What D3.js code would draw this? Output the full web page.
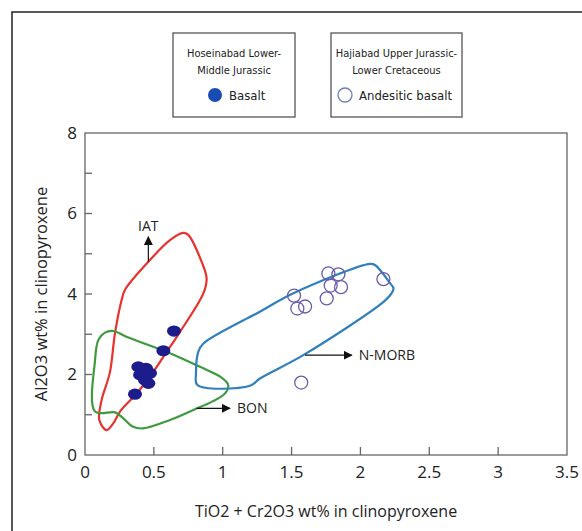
<!DOCTYPE html>
<html>
<head>
<meta charset="utf-8">
<script src="https://cdn.jsdelivr.net/npm/d3@7"></script>
<style>
    html, body { margin: 0; padding: 0; background: #fff; }
    svg { display: block; }
    .tick-label, .axis-title, .field-label { font-family: "Open Sans", sans-serif; fill: #222; }
    .legend-text { font-family: "DejaVu Sans Condensed", "Liberation Sans Narrow", sans-serif; font-stretch: condensed; fill: #222; }
</style>
</head>
<body>
<div id="chart"></div>
<script>
// Hoseinabad basalt (filled) and Hajiabad andesitic basalt (open)
const basaltX = [0.646, 0.569, 0.387, 0.443, 0.472, 0.400, 0.436, 0.460, 0.363];
const basaltY = [3.08, 2.59, 2.19, 2.15, 2.03, 1.99, 1.86, 1.78, 1.51];
const andesiticX = [1.767, 1.840, 1.784, 1.859, 1.755, 1.518, 1.542, 1.598, 2.167, 1.570];
const andesiticY = [4.51, 4.49, 4.21, 4.17, 3.89, 3.96, 3.64, 3.69, 4.37, 1.80];

// discrimination fields, outline vertices as [x, y]
const iatField = [[0.157, 0.62], [0.104, 0.87], [0.121, 1.37], [0.18, 2.04], [0.218, 3.03], [0.266, 3.85],
    [0.29, 4.1], [0.46, 4.8], [0.617, 5.34], [0.714, 5.52], [0.75, 5.47], [0.847, 4.80], [0.883, 4.39],
    [0.86, 4.02], [0.69, 3.06], [0.569, 2.44], [0.472, 1.95], [0.375, 1.53], [0.254, 1.08], [0.206, 0.79]];
const bonField = [[0.073, 1.08], [0.073, 2.36], [0.097, 2.86], [0.145, 3.04], [0.206, 3.08], [0.30, 2.94],
    [0.617, 2.53], [0.835, 2.19], [0.98, 1.95], [1.04, 1.74], [1.017, 1.53], [0.92, 1.32], [0.787, 1.12],
    [0.617, 0.87], [0.42, 0.66], [0.35, 0.70], [0.266, 0.95], [0.218, 1.06]];
const morbField = [[0.86, 2.77], [0.823, 2.57], [0.806, 2.03], [0.816, 1.74], [1.198, 1.72], [1.27, 1.90],
    [1.585, 2.48], [2.17, 3.81], [2.227, 4.02], [2.24, 4.14], [2.215, 4.27], [2.106, 4.72], [2.07, 4.75],
    [1.513, 4.02], [1.27, 3.56]];

const fieldNames = ['IAT', 'BON', 'N-MORB'];
// arrow from -> to, label placed past the arrow head
const arrowFrom = [[0.46, 4.80], [0.811, 1.16], [1.598, 2.48]];
const arrowTo = [[0.46, 5.42], [1.053, 1.16], [1.937, 2.48]];

const xTicks = [0, 0.5, 1, 1.5, 2, 2.5, 3, 3.5];
const yTicks = [0, 1, 2, 3, 4, 5, 6, 7, 8];
const yTickLabels = [0, 2, 4, 6, 8];

const legendTitles = [['Hoseinabad Lower-', 'Middle Jurassic'], ['Hajiabad Upper Jurassic-', 'Lower Cretaceous']];
const legendNames = ['Basalt', 'Andesitic basalt'];

const COLORS = { iat: '#e8322e', bon: '#3d9a3e', morb: '#2f80bd', basalt: '#1c1c8c', andesitic: '#6a5cab' };

const width = 582, height = 531;
const margin = { top: 133, right: 15, bottom: 76, left: 85 };

const svg = d3.select('#chart').append('svg')
    .attr('width', width)
    .attr('height', height);

const defs = svg.append('defs');
defs.append('marker')
    .attr('id', 'arrow-head')
    .attr('viewBox', '0 0 10 10')
    .attr('refX', 9).attr('refY', 5)
    .attr('markerWidth', 9).attr('markerHeight', 9)
    .attr('markerUnits', 'userSpaceOnUse')
    .attr('orient', 'auto')
    .append('path')
    .attr('d', 'M0,0 L10,5 L0,10 Z')
    .attr('fill', '#111');

// figure frame (only top and left edges show in the crop)
svg.append('path')
    .attr('d', `M12,${height} L12,12 L${width},12`)
    .attr('fill', 'none')
    .attr('stroke', '#222')
    .attr('stroke-width', 1.5);

const x = d3.scaleLinear().domain([0, 3.5]).range([margin.left, width - margin.right]);
const y = d3.scaleLinear().domain([0, 8]).range([height - margin.bottom, margin.top]);

// plot frame
svg.append('rect')
    .attr('x', x(0)).attr('y', y(8))
    .attr('width', x(3.5) - x(0))
    .attr('height', y(0) - y(8))
    .attr('fill', 'none')
    .attr('stroke', '#666')
    .attr('stroke-width', 1.3);

// inward ticks
svg.append('g')
    .selectAll('line')
    .data(xTicks.slice(1, -1))
    .join('line')
    .attr('x1', d => x(d)).attr('x2', d => x(d))
    .attr('y1', y(0)).attr('y2', y(0) - 8)
    .attr('stroke', '#666').attr('stroke-width', 1.3);

svg.append('g')
    .selectAll('line')
    .data(yTicks.slice(1, -1))
    .join('line')
    .attr('x1', x(0)).attr('x2', x(0) + 7)
    .attr('y1', d => y(d)).attr('y2', d => y(d))
    .attr('stroke', '#666').attr('stroke-width', 1.3);

svg.append('g')
    .selectAll('text')
    .data(xTicks)
    .join('text')
    .attr('class', 'tick-label')
    .attr('x', d => x(d))
    .attr('y', y(0) + 23)
    .attr('text-anchor', 'middle')
    .style('font-size', '17px')
    .text(d => d);

svg.append('g')
    .selectAll('text')
    .data(yTickLabels)
    .join('text')
    .attr('class', 'tick-label')
    .attr('x', x(0) - 8)
    .attr('y', d => y(d))
    .attr('dy', '0.35em')
    .attr('text-anchor', 'end')
    .style('font-size', '17px')
    .text(d => d);

svg.append('text')
    .attr('class', 'axis-title')
    .attr('x', (x(0) + x(3.5)) / 2)
    .attr('y', 517)
    .attr('text-anchor', 'middle')
    .style('font-size', '16px')
    .text('TiO2 + Cr2O3 wt% in clinopyroxene');

svg.append('text')
    .attr('class', 'axis-title')
    .attr('transform', `translate(47,${(y(0) + y(8)) / 2}) rotate(-90)`)
    .attr('text-anchor', 'middle')
    .style('font-size', '16.5px')
    .text('Al2O3 wt% in clinopyroxene');

// fields
const outline = d3.line()
    .x(d => x(d[0]))
    .y(d => y(d[1]))
    .curve(d3.curveCatmullRomClosed.alpha(0.5));

[[iatField, COLORS.iat], [bonField, COLORS.bon], [morbField, COLORS.morb]].forEach(([field, color]) => {
    svg.append('path')
        .attr('d', outline(field))
        .attr('fill', 'none')
        .attr('stroke', color)
        .attr('stroke-width', 2.2)
        .attr('stroke-linejoin', 'round');
});

// field arrows and names
fieldNames.forEach((name, i) => {
    const [x0, y0] = arrowFrom[i];
    const [x1, y1] = arrowTo[i];
    svg.append('line')
        .attr('x1', x(x0)).attr('y1', y(y0))
        .attr('x2', x(x1)).attr('y2', y(y1))
        .attr('stroke', '#111')
        .attr('stroke-width', 1.2)
        .attr('marker-end', 'url(#arrow-head)');

    const vertical = x0 === x1;
    svg.append('text')
        .attr('class', 'field-label')
        .attr('x', vertical ? x(x1) : x(x1) + 7)
        .attr('y', vertical ? y(y1) - 6 : y(y1))
        .attr('dy', vertical ? 0 : '0.35em')
        .attr('text-anchor', vertical ? 'middle' : 'start')
        .style('font-size', '14px')
        .text(name);
});

// samples
svg.append('g')
    .selectAll('circle')
    .data(d3.zip(andesiticX, andesiticY))
    .join('circle')
    .attr('cx', d => x(d[0]))
    .attr('cy', d => y(d[1]))
    .attr('r', 6.5)
    .attr('fill', 'none')
    .attr('stroke', COLORS.andesitic)
    .attr('stroke-width', 1.3);

svg.append('g')
    .selectAll('ellipse')
    .data(d3.zip(basaltX, basaltY))
    .join('ellipse')
    .attr('cx', d => x(d[0]))
    .attr('cy', d => y(d[1]))
    .attr('rx', 7)
    .attr('ry', 5.6)
    .attr('fill', COLORS.basalt);

// legend boxes
const legendBoxes = [{ x: 173, w: 122 }, { x: 331, w: 131 }];
legendBoxes.forEach((box, i) => {
    const g = svg.append('g').attr('transform', `translate(${box.x},33)`);
    g.append('rect')
        .attr('width', box.w).attr('height', 84)
        .attr('fill', '#fff')
        .attr('stroke', '#555')
        .attr('stroke-width', 1.3);
    legendTitles[i].forEach((line, j) => {
        g.append('text')
            .attr('class', 'legend-text')
            .attr('x', box.w / 2)
            .attr('y', 24 + j * 17)
            .attr('text-anchor', 'middle')
            .style('font-size', '11px')
            .text(line);
    });
    const cx = i === 0 ? 42 : 14;
    g.append('circle')
        .attr('cx', cx).attr('cy', 62)
        .attr('r', 7)
        .attr('fill', i === 0 ? '#1a4db3' : 'none')
        .attr('stroke', i === 0 ? 'none' : '#6f7fb5')
        .attr('stroke-width', 1.3);
    g.append('text')
        .attr('class', 'legend-text')
        .attr('x', cx + 14)
        .attr('y', 62)
        .attr('dy', '0.35em')
        .style('font-size', '13px')
        .text(legendNames[i]);
});
</script>
</body>
</html>
